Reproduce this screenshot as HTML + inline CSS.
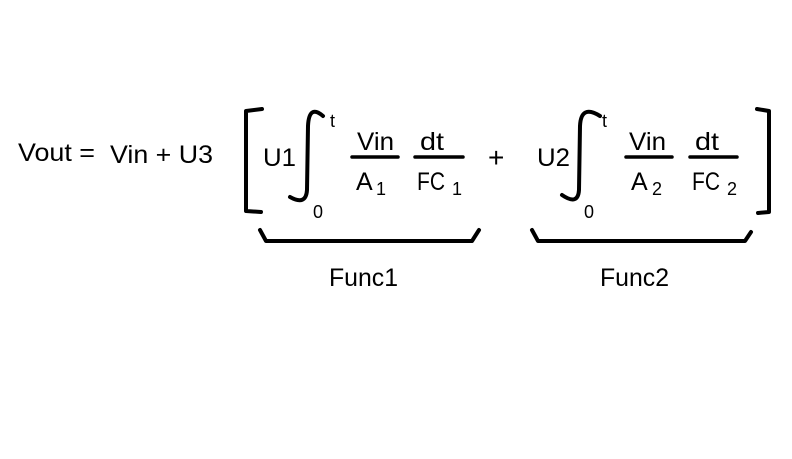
<!DOCTYPE html>
<html><head><meta charset="utf-8"><style>html,body{margin:0;padding:0;background:#fff}svg{display:block}</style></head>
<body>
<svg width="792" height="459" viewBox="0 0 792 459" xmlns="http://www.w3.org/2000/svg" font-family="Liberation Sans, sans-serif" fill="#000">
<g font-size="25">
<text x="18" y="161" textLength="77" lengthAdjust="spacingAndGlyphs">Vout =</text>
<text x="110" y="163" textLength="103" lengthAdjust="spacingAndGlyphs">Vin + U3</text>
<text x="263" y="166" textLength="33" lengthAdjust="spacingAndGlyphs">U1</text>
<text x="357" y="150" textLength="37" lengthAdjust="spacingAndGlyphs">Vin</text>
<text x="356" y="190">A</text>
<text x="420" y="150" textLength="24" lengthAdjust="spacingAndGlyphs">dt</text>
<text x="417" y="190" textLength="28" lengthAdjust="spacingAndGlyphs">FC</text>
<text x="488" y="167" font-size="28">+</text>
<text x="537" y="166" textLength="33" lengthAdjust="spacingAndGlyphs">U2</text>
<text x="629" y="150" textLength="37" lengthAdjust="spacingAndGlyphs">Vin</text>
<text x="631" y="190">A</text>
<text x="695" y="150" textLength="24" lengthAdjust="spacingAndGlyphs">dt</text>
<text x="692" y="190" textLength="28" lengthAdjust="spacingAndGlyphs">FC</text>
<text x="329" y="286" textLength="69" lengthAdjust="spacingAndGlyphs">Func1</text>
<text x="600" y="286" textLength="69" lengthAdjust="spacingAndGlyphs">Func2</text>
</g>
<g font-size="18">
<text x="330" y="127">t</text>
<text x="313" y="218">0</text>
<text x="602" y="127">t</text>
<text x="584" y="218">0</text>
<text x="376" y="195">1</text>
<text x="452" y="195">1</text>
<text x="652" y="195">2</text>
<text x="727" y="195">2</text>
</g>
<g stroke="#000" fill="none" stroke-width="4" stroke-linecap="round" stroke-linejoin="round">
<path d="M262 109 L246 111 L246 211 L261 212"/>
<path d="M757 109 L769 111 L769 212 L758 213"/>
<path d="M323 116 Q309 104 308 126 L307 190 Q306 206 290 197"/>
<path d="M600 116 Q581 104 580 126 L579 190 Q578 206 562 195"/>
<path d="M352 157 L398 157 M415 157 L463 157 M626 157 L672 157 M690 157 L737 157" stroke-width="3.5"/>
<path d="M260 230 L266 241 L472 241 L479 230"/>
<path d="M532 230 L538 241 L745 241 L751 232"/>
</g>
</svg>
</body></html>
